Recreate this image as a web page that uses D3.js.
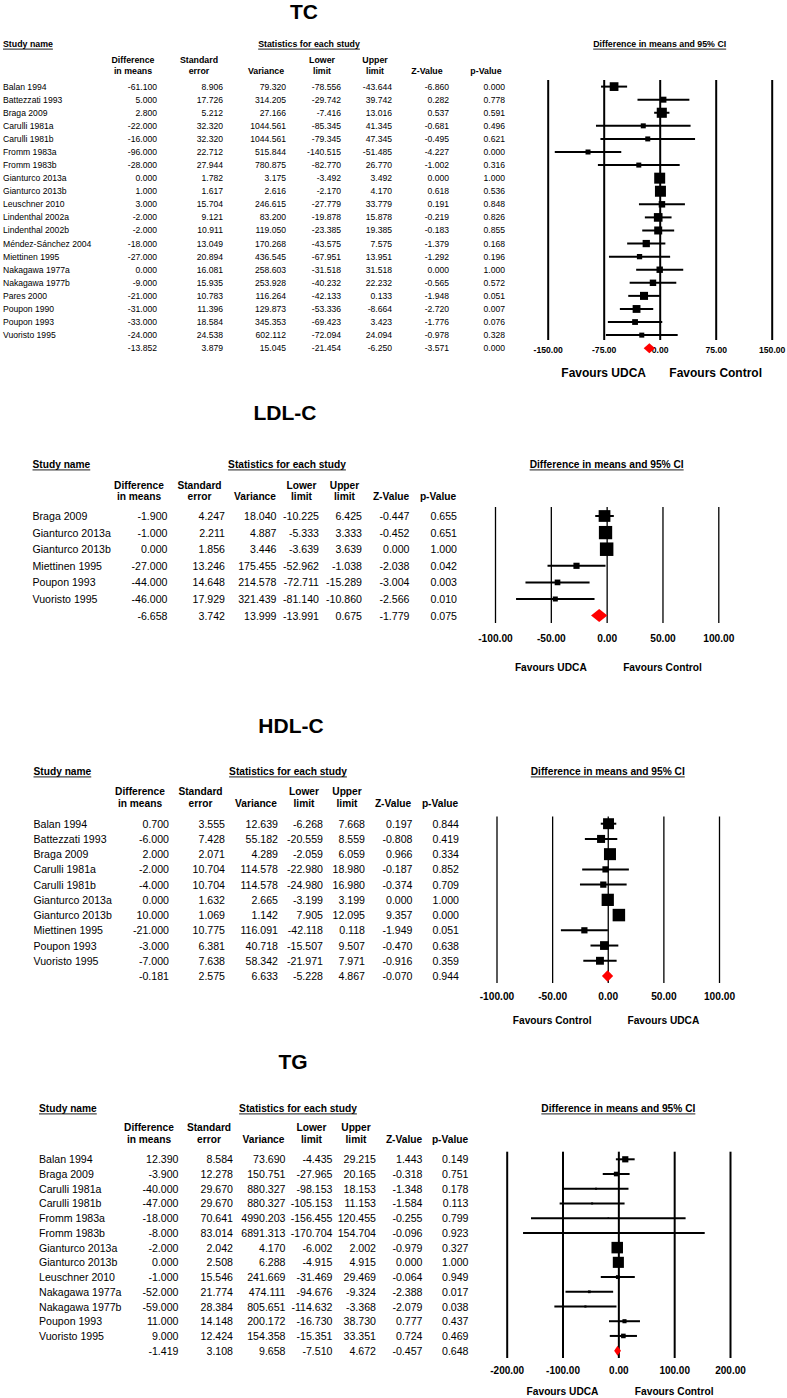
<!DOCTYPE html>
<html><head><meta charset="utf-8">
<script src="https://cdn.jsdelivr.net/npm/d3@7"></script>
<style>
body{margin:0;background:#fff;}
svg{display:block;font-family:'Liberation Sans',Arial,Helvetica,sans-serif;}
</style></head><body>
<svg id="chart" width="787" height="1398"></svg>
<script>
// ---------------- DATA ----------------
const colHeaders = [["Difference","in means"],["Standard","error"],["","Variance"],["Lower","limit"],["Upper","limit"],["","Z-Value"],["","p-Value"]];
const favoursUDCAFirst = ["Favours UDCA","Favours Control"];
const favoursControlFirst = ["Favours Control","Favours UDCA"];

// TC
const tcStudies = ["Balan 1994","Battezzati 1993","Braga 2009","Carulli 1981a","Carulli 1981b","Fromm 1983a","Fromm 1983b","Gianturco 2013a","Gianturco 2013b","Leuschner 2010","Lindenthal 2002a","Lindenthal 2002b","Méndez-Sánchez 2004","Miettinen 1995","Nakagawa 1977a","Nakagawa 1977b","Pares 2000","Poupon 1990","Poupon 1993","Vuoristo 1995"];
const tcDiff  = [-61.100,5.000,2.800,-22.000,-16.000,-96.000,-28.000,0.000,1.000,3.000,-2.000,-2.000,-18.000,-27.000,0.000,-9.000,-21.000,-31.000,-33.000,-24.000];
const tcSE    = [8.906,17.726,5.212,32.320,32.320,22.712,27.944,1.782,1.617,15.704,9.121,10.911,13.049,20.894,16.081,15.935,10.783,11.396,18.584,24.538];
const tcVar   = [79.320,314.205,27.166,1044.561,1044.561,515.844,780.875,3.175,2.616,246.615,83.200,119.050,170.268,436.545,258.603,253.928,116.264,129.873,345.353,602.112];
const tcLower = [-78.556,-29.742,-7.416,-85.345,-79.345,-140.515,-82.770,-3.492,-2.170,-27.779,-19.878,-23.385,-43.575,-67.951,-31.518,-40.232,-42.133,-53.336,-69.423,-72.094];
const tcUpper = [-43.644,39.742,13.016,41.345,47.345,-51.485,26.770,3.492,4.170,33.779,15.878,19.385,7.575,13.951,31.518,22.232,0.133,-8.664,3.423,24.094];
const tcZ     = [-6.860,0.282,0.537,-0.681,-0.495,-4.227,-1.002,0.000,0.618,0.191,-0.219,-0.183,-1.379,-1.292,0.000,-0.565,-1.948,-2.720,-1.776,-0.978];
const tcP     = [0.000,0.778,0.591,0.496,0.621,0.000,0.316,1.000,0.536,0.848,0.826,0.855,0.168,0.196,1.000,0.572,0.051,0.007,0.076,0.328];
const tcSummary = [-13.852,3.879,15.045,-21.454,-6.250,-3.571,0.000];
const tcTicks = [-150,-75,0,75,150];

// LDL-C
const ldlStudies = ["Braga 2009","Gianturco 2013a","Gianturco 2013b","Miettinen 1995","Poupon 1993","Vuoristo 1995"];
const ldlDiff  = [-1.900,-1.000,0.000,-27.000,-44.000,-46.000];
const ldlSE    = [4.247,2.211,1.856,13.246,14.648,17.929];
const ldlVar   = [18.040,4.887,3.446,175.455,214.578,321.439];
const ldlLower = [-10.225,-5.333,-3.639,-52.962,-72.711,-81.140];
const ldlUpper = [6.425,3.333,3.639,-1.038,-15.289,-10.860];
const ldlZ     = [-0.447,-0.452,0.000,-2.038,-3.004,-2.566];
const ldlP     = [0.655,0.651,1.000,0.042,0.003,0.010];
const ldlSummary = [-6.658,3.742,13.999,-13.991,0.675,-1.779,0.075];
const ldlTicks = [-100,-50,0,50,100];

// HDL-C
const hdlStudies = ["Balan 1994","Battezzati 1993","Braga 2009","Carulli 1981a","Carulli 1981b","Gianturco 2013a","Gianturco 2013b","Miettinen 1995","Poupon 1993","Vuoristo 1995"];
const hdlDiff  = [0.700,-6.000,2.000,-2.000,-4.000,0.000,10.000,-21.000,-3.000,-7.000];
const hdlSE    = [3.555,7.428,2.071,10.704,10.704,1.632,1.069,10.775,6.381,7.638];
const hdlVar   = [12.639,55.182,4.289,114.578,114.578,2.665,1.142,116.091,40.718,58.342];
const hdlLower = [-6.268,-20.559,-2.059,-22.980,-24.980,-3.199,7.905,-42.118,-15.507,-21.971];
const hdlUpper = [7.668,8.559,6.059,18.980,16.980,3.199,12.095,0.118,9.507,7.971];
const hdlZ     = [0.197,-0.808,0.966,-0.187,-0.374,0.000,9.357,-1.949,-0.470,-0.916];
const hdlP     = [0.844,0.419,0.334,0.852,0.709,1.000,0.000,0.051,0.638,0.359];
const hdlSummary = [-0.181,2.575,6.633,-5.228,4.867,-0.070,0.944];
const hdlTicks = [-100,-50,0,50,100];

// TG
const tgStudies = ["Balan 1994","Braga 2009","Carulli 1981a","Carulli 1981b","Fromm 1983a","Fromm 1983b","Gianturco 2013a","Gianturco 2013b","Leuschner 2010","Nakagawa 1977a","Nakagawa 1977b","Poupon 1993","Vuoristo 1995"];
const tgDiff  = [12.390,-3.900,-40.000,-47.000,-18.000,-8.000,-2.000,0.000,-1.000,-52.000,-59.000,11.000,9.000];
const tgSE    = [8.584,12.278,29.670,29.670,70.641,83.014,2.042,2.508,15.546,21.774,28.384,14.148,12.424];
const tgVar   = [73.690,150.751,880.327,880.327,4990.203,6891.313,4.170,6.288,241.669,474.111,805.651,200.172,154.358];
const tgLower = [-4.435,-27.965,-98.153,-105.153,-156.455,-170.704,-6.002,-4.915,-31.469,-94.676,-114.632,-16.730,-15.351];
const tgUpper = [29.215,20.165,18.153,11.153,120.455,154.704,2.002,4.915,29.469,-9.324,-3.368,38.730,33.351];
const tgZ     = [1.443,-0.318,-1.348,-1.584,-0.255,-0.096,-0.979,0.000,-0.064,-2.388,-2.079,0.777,0.724];
const tgP     = [0.149,0.751,0.178,0.113,0.799,0.923,0.327,1.000,0.949,0.017,0.038,0.437,0.469];
const tgSummary = [-1.419,3.108,9.658,-7.510,4.672,-0.457,0.648];
const tgTicks = [-200,-100,0,100,200];

// ---------------- LAYOUT ----------------
const panels = [
 {title:"TC", studies:tcStudies, cols:[tcDiff,tcSE,tcVar,tcLower,tcUpper,tcZ,tcP], summary:tcSummary, ticks:tcTicks, favours:favoursUDCAFirst,
  L:{titleX:304,titleY:11,titleSize:21,nameX:3,headY:44,statsX:309,headSize:8.8,h1Y:60,h2Y:70.5,
     colHead:[133,199,266,322,375,427,486],colRight:[157,223,286,341,392,449,505],dataSize:8.6,
     row0:86.6,rowH:13.08,xRange:[547.7,771.7],lineTop:80,lineBot:340,gridW:2,ciW:2,tickY:350,tickSize:8.6,
     favY:373,favSize:12,sqMax:11,sqMin:5,diaH:10}},
 {title:"LDL-C", studies:ldlStudies, cols:[ldlDiff,ldlSE,ldlVar,ldlLower,ldlUpper,ldlZ,ldlP], summary:ldlSummary, ticks:ldlTicks, favours:favoursUDCAFirst,
  L:{titleX:285,titleY:412,titleSize:21,nameX:32.5,headY:464,statsX:287,headSize:10.2,h1Y:485,h2Y:496.7,
     colHead:[139,199.5,255,301.5,344.5,391,438],colRight:[167.5,225,276.5,319,362,409.5,457],dataSize:10.6,
     row0:516,rowH:16.6,xRange:[495,718.3],lineTop:507,lineBot:623,gridW:1.3,ciW:2,tickY:638,tickSize:10.2,
     favY:667,favSize:10.2,sqMax:13.5,sqMin:5,diaH:13}},
 {title:"HDL-C", studies:hdlStudies, cols:[hdlDiff,hdlSE,hdlVar,hdlLower,hdlUpper,hdlZ,hdlP], summary:hdlSummary, ticks:hdlTicks, favours:favoursControlFirst,
  L:{titleX:291,titleY:725,titleSize:21,nameX:33.5,headY:771,statsX:288,headSize:10.2,h1Y:791,h2Y:803.7,
     colHead:[140,200.5,256,304,347,393,440],colRight:[169,225,278,323,365,412.5,459],dataSize:10.6,
     row0:823.7,rowH:15.23,xRange:[496.5,719],lineTop:816.5,lineBot:983,gridW:1.3,ciW:2,tickY:996,tickSize:10.2,
     favY:1020,favSize:10.2,sqMax:12.5,sqMin:5,diaH:11.5}},
 {title:"TG", studies:tgStudies, cols:[tgDiff,tgSE,tgVar,tgLower,tgUpper,tgZ,tgP], summary:tgSummary, ticks:tgTicks, favours:favoursUDCAFirst,
  L:{titleX:293,titleY:1061,titleSize:21,nameX:39,headY:1108,statsX:298,headSize:10.2,h1Y:1127.7,h2Y:1139.3,
     colHead:[149,209,263.5,311.5,356,404,450],colRight:[178.5,233,285.5,332.5,376,422.5,468.5],dataSize:10.6,
     row0:1159.3,rowH:14.72,xRange:[506.7,730],lineTop:1151.7,lineBot:1358,gridW:2,ciW:2,tickY:1370,tickSize:10,
     favY:1391.5,favSize:10.2,sqMax:11.5,sqMin:1.5,diaH:10}}
];

// random-effects weights: solve tau^2 so that sum of weights = 1 / summary variance
function reWeights(vars, summaryVar){
  const target = 1/summaryVar;
  const f = t => d3.sum(vars, v => 1/(v+t)) - target;
  let t = 0;
  if (f(0) > 0){
    let lo = 0, hi = 1e6;
    for (let k=0;k<200;k++){ const m=(lo+hi)/2; if (f(m)>0) lo=m; else hi=m; }
    t = (lo+hi)/2;
  }
  return vars.map(v => 1/(v+t));
}

const svg = d3.select("#chart");

function drawPanel(P){
  const L = P.L, n = P.studies.length;
  const g = svg.append("g");
  const txt = (x,y,s,size,opts={}) => g.append("text").attr("x",x).attr("y",y)
      .attr("dominant-baseline","central").attr("text-anchor",opts.anchor||"start")
      .style("font-size",size+"px").style("font-weight",opts.bold?"bold":"normal").attr("fill","#000").text(s);

  // title
  txt(L.titleX,L.titleY,P.title,L.titleSize,{anchor:"middle",bold:true});

  const x = d3.scaleLinear().domain([P.ticks[0],P.ticks[P.ticks.length-1]]).range(L.xRange);
  const y = d3.scalePoint().domain(d3.range(n+1)).range([L.row0, L.row0 + n*L.rowH]);

  // underlined group headers
  const under = (x0,s,anchor) => {
    const t = txt(x0,L.headY,s,L.headSize,{anchor,bold:true});
    const w = t.node().getComputedTextLength();
    const xs = anchor==="middle" ? x0-w/2 : x0;
    g.append("line").attr("x1",xs).attr("x2",xs+w)
      .attr("y1",L.headY+0.58*L.headSize).attr("y2",L.headY+0.58*L.headSize)
      .attr("stroke","#000").attr("stroke-width",0.9);
  };
  under(L.nameX,"Study name","start");
  under(L.statsX,"Statistics for each study","middle");
  under((L.xRange[0]+L.xRange[1])/2,"Difference in means and 95% CI","middle");

  // column headers
  colHeaders.forEach((h,c)=>{
    if (h[0]) txt(L.colHead[c],L.h1Y,h[0],L.headSize,{anchor:"middle",bold:true});
    txt(L.colHead[c],L.h2Y,h[1],L.headSize,{anchor:"middle",bold:true});
  });

  // rows
  P.studies.forEach((s,i)=>{
    txt(L.nameX,y(i),s,L.dataSize);
    P.cols.forEach((col,c)=> txt(L.colRight[c],y(i),col[i].toFixed(3),L.dataSize,{anchor:"end"}));
  });
  P.summary.forEach((v,c)=> txt(L.colRight[c],y(n),v.toFixed(3),L.dataSize,{anchor:"end"}));

  // axis with full-height grid lines
  const axis = d3.axisBottom(x).tickValues(P.ticks).tickSizeInner(-(L.lineBot-L.lineTop)).tickSizeOuter(0)
      .tickFormat(d=>d.toFixed(2));
  const ag = g.append("g").attr("transform",`translate(0,${L.lineBot})`).call(axis);
  ag.attr("font-family",null).attr("font-size",null);
  ag.select(".domain").remove();
  ag.selectAll(".tick line").attr("stroke","#000").attr("stroke-width",L.gridW);
  ag.selectAll(".tick text").attr("y",L.tickY-L.lineBot).attr("dy",null).attr("dominant-baseline","central")
    .attr("fill","#000").style("font-size",L.tickSize+"px").style("font-weight","bold");

  // favours labels
  txt(x(P.ticks[1]),L.favY,P.favours[0],L.favSize,{anchor:"middle",bold:true});
  txt(x(P.ticks[3]),L.favY,P.favours[1],L.favSize,{anchor:"middle",bold:true});

  // CI lines
  const lower = P.cols[3], upper = P.cols[4], est = P.cols[0];
  g.append("g").selectAll("line").data(d3.range(n)).join("line")
    .attr("x1",i=>x(lower[i])).attr("x2",i=>x(upper[i]))
    .attr("y1",i=>y(i)).attr("y2",i=>y(i))
    .attr("stroke","#000").attr("stroke-width",L.ciW);

  // squares sized by random-effects weight
  const w = reWeights(P.cols[2], P.summary[2]);
  const size = d3.scaleSqrt().domain([0,d3.max(w)]).range([0,L.sqMax]);
  g.append("g").selectAll("rect").data(d3.range(n)).join("rect")
    .attr("x",i=>x(est[i])-Math.max(L.sqMin,size(w[i]))/2)
    .attr("y",i=>y(i)-Math.max(L.sqMin,size(w[i]))/2)
    .attr("width",i=>Math.max(L.sqMin,size(w[i])))
    .attr("height",i=>Math.max(L.sqMin,size(w[i])))
    .attr("fill","#000");

  // summary diamond
  const sy = y(n), sm = P.summary;
  g.append("path")
    .attr("d",`M${x(sm[3])},${sy}L${x(sm[0])},${sy-L.diaH/2}L${x(sm[4])},${sy}L${x(sm[0])},${sy+L.diaH/2}Z`)
    .attr("fill","#ff0000");
}

panels.forEach(drawPanel);
</script>
</body></html>
